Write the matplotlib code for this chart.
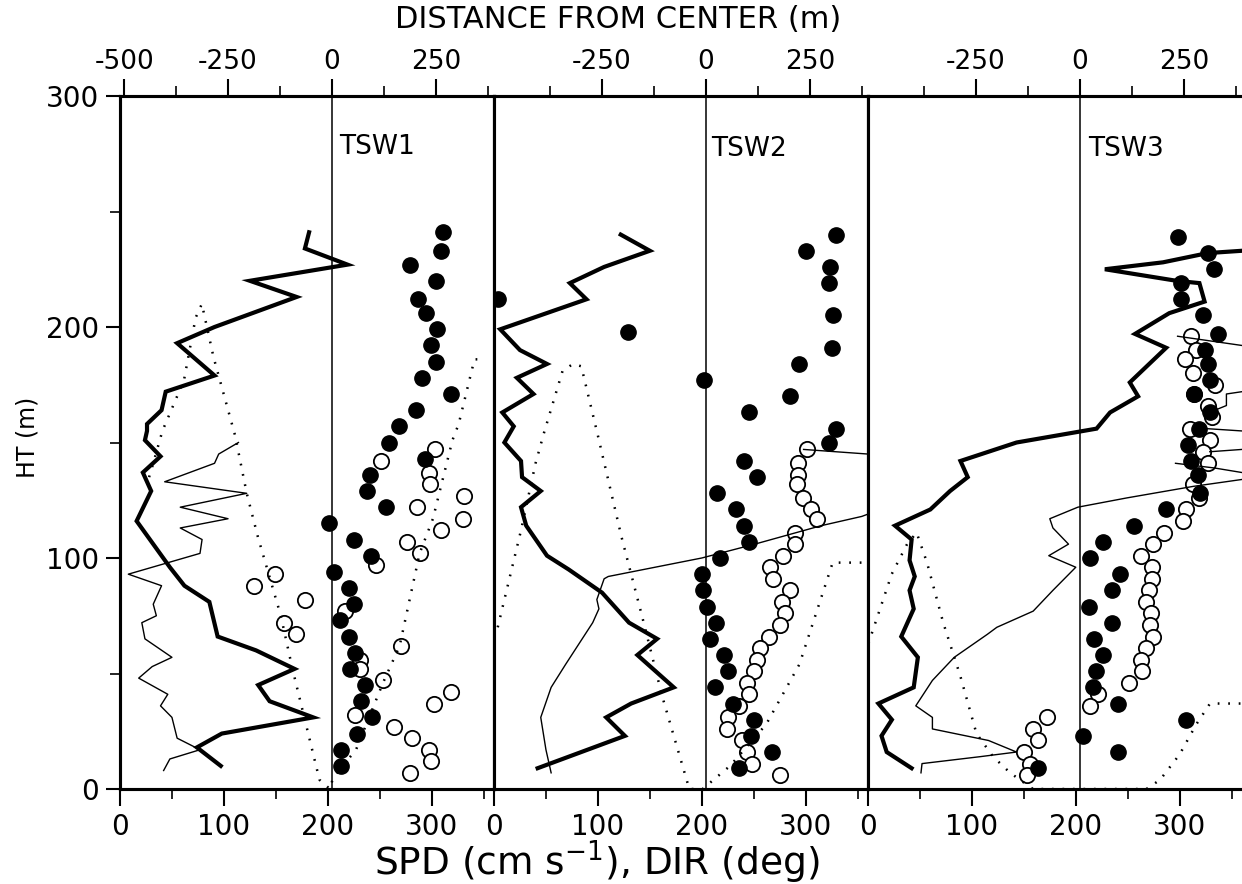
import numpy as np
import matplotlib.pyplot as plt

# Profiles for the three soundings: (value, height m) pairs.
# heavy = thick solid line, light = thin solid line (NaN splits segments),
# dots = filled circles, rings = open circles, track = dotted distance trace (m).

tsw1_heavy = [(182, 241), (178, 234), (219, 227), (125, 220), (170, 213), (91, 200),
              (55, 193), (91, 179), (44, 172), (40, 164), (26, 158), (26, 155),
              (24, 151), (39, 144), (22, 137), (30, 129), (16, 116), (32, 106),
              (48, 96), (62, 88), (86, 81), (94, 66), (131, 60), (168, 52),
              (133, 45), (144, 38), (186, 31), (98, 24), (74, 18), (97, 10)]
tsw1_light = [(114, 150), (95, 145), (91, 141), (43, 133), (122, 128), (58, 122),
              (104, 117), (58, 113), (79, 108), (77, 102), (8, 93), (40, 88),
              (32, 80), (35, 75), (21, 72), (24, 65), (50, 57), (31, 53),
              (18, 48), (46, 41), (39, 36), (50, 31), (55, 22), (77, 17),
              (48, 13), (42, 8)]
tsw1_track = [(-440, 135), (-430, 141), (-408, 155), (-356, 177), (-328, 204),
              (-313, 210), (-285, 187), (-233, 153), (-205, 128), (-178, 109),
              (-123, 75), (-95, 52), (-30, 4), (-5, 0), (3, 5), (58, 17),
              (123, 46), (163, 62), (211, 102), (243, 117), (290, 151),
              (305, 158), (343, 186), (370, 186)]
tsw1_dots = [(311, 241), (309, 233), (279, 227), (304, 220), (287, 212), (295, 206),
             (305, 199), (299, 192), (304, 185), (291, 178), (319, 171), (285, 164),
             (269, 157), (259, 150), (294, 143), (241, 136), (238, 129), (256, 122),
             (201, 115), (225, 108), (242, 101), (206, 94), (220, 87), (225, 80),
             (212, 73), (220, 66), (226, 59), (221, 52), (236, 45), (232, 38),
             (243, 31), (228, 24), (213, 17), (213, 10)]
tsw1_rings = [(303, 147), (251, 142), (297, 137), (298, 132), (331, 127), (286, 122),
              (330, 117), (309, 112), (276, 107), (289, 102), (246, 97), (149, 93),
              (129, 88), (178, 82), (217, 77), (158, 72), (169, 67), (270, 62),
              (231, 56), (231, 52), (253, 47), (319, 42), (302, 37), (226, 32),
              (264, 27), (281, 22), (297, 17), (299, 12), (279, 7)]

tsw2_heavy = [(122, 240), (150, 233), (106, 226), (73, 219), (89, 212), (6, 199),
              (25, 190), (51, 184), (22, 178), (38, 171), (8, 163), (19, 157),
              (10, 150), (26, 142), (27, 135), (45, 129), (26, 122), (31, 114),
              (51, 101), (72, 95), (104, 85), (130, 72), (157, 65), (138, 58),
              (173, 44), (132, 37), (108, 31), (126, 23), (42, 9)]
tsw2_light = [(55, 7), (50, 17), (45, 31), (55, 44), (69, 54), (82, 63), (95, 72),
              (101, 78), (99, 82), (106, 91), (110, 92), (200, 100), (251, 106),
              (315, 114), (354, 118), (360, 119), (np.nan, np.nan),
              (360, 145), (298, 147)]
tsw2_track = [(-501, 70), (-473, 91), (-445, 112), (-410, 141), (-390, 154),
              (-345, 181), (-320, 184), (-300, 183), (-260, 153), (-203, 109),
              (-154, 75), (-105, 40), (-40, 0), (-8, 0), (58, 10), (145, 28),
              (225, 54), (305, 98), (323, 98), (378, 98)]
tsw2_dots = [(329, 240), (300, 233), (323, 226), (322, 219), (4, 212), (326, 205),
             (129, 198), (325, 191), (294, 184), (202, 177), (285, 170), (245, 163),
             (329, 156), (322, 150), (241, 142), (253, 135), (215, 128), (233, 121),
             (241, 114), (245, 107), (218, 100), (200, 93), (201, 86), (205, 79),
             (214, 72), (208, 65), (221, 58), (225, 51), (213, 44), (230, 37),
             (250, 30), (247, 23), (268, 16), (236, 9)]
tsw2_rings = [(301, 147), (293, 141), (293, 136), (292, 132), (297, 126), (305, 121),
              (311, 117), (290, 111), (290, 106), (278, 101), (266, 96), (269, 91),
              (285, 86), (277, 81), (280, 76), (275, 71), (265, 66), (256, 61),
              (253, 56), (250, 51), (244, 46), (245, 41), (236, 36), (225, 31),
              (224, 26), (239, 21), (244, 16), (248, 11), (275, 6)]

tsw3_heavy = [(360, 233), (327, 232), (284, 228), (228, 225), (297, 220), (319, 219),
              (324, 211), (290, 206), (257, 197), (287, 191), (252, 176), (260, 170),
              (233, 163), (220, 156), (143, 150), (89, 142), (96, 135), (79, 129),
              (60, 121), (26, 114), (42, 108), (40, 99), (45, 92), (40, 86),
              (44, 78), (32, 66), (48, 57), (44, 44), (10, 37), (23, 30),
              (13, 23), (18, 16), (42, 9)]
tsw3_light = [(51, 7), (52, 11), (108, 14), (143, 16), (116, 21), (62, 26), (62, 31),
              (46, 36), (62, 47), (83, 57), (115, 67), (124, 70), (159, 77),
              (178, 86), (200, 96), (174, 101), (193, 106), (178, 113), (175, 117),
              (202, 122), (249, 126), (313, 131), (360, 134), (np.nan, np.nan),
              (360, 137), (333, 139), (296, 141), (np.nan, np.nan),
              (329, 146), (360, 147), (np.nan, np.nan),
              (360, 155), (326, 156), (np.nan, np.nan),
              (334, 164), (345, 166), (345, 171), (360, 172), (np.nan, np.nan),
              (360, 192), (298, 196)]
tsw3_track = [(-509, 63), (-453, 93), (-416, 106), (-393, 111), (-368, 98),
              (-329, 72), (-288, 49), (-249, 24), (-209, 14), (-168, 7),
              (-113, 0), (0, 0), (160, 0), (193, 4), (240, 15), (280, 28),
              (313, 37), (390, 37)]
tsw3_dots = [(298, 239), (327, 232), (333, 225), (301, 219), (301, 212), (322, 205),
             (337, 197), (324, 190), (327, 184), (329, 177), (314, 171), (329, 163),
             (319, 156), (308, 149), (311, 142), (318, 136), (320, 128), (287, 121),
             (256, 114), (226, 107), (214, 100), (243, 93), (235, 86), (213, 79),
             (235, 72), (218, 65), (226, 58), (219, 51), (217, 44), (241, 37),
             (306, 30), (207, 23), (241, 16), (164, 9)]
tsw3_rings = [(311, 196), (316, 190), (305, 186), (313, 180), (334, 175), (314, 171),
              (327, 166), (331, 161), (310, 156), (329, 151), (322, 146), (327, 141),
              (313, 132), (319, 126), (306, 121), (303, 116), (285, 111), (274, 106),
              (263, 101), (273, 96), (273, 91), (270, 86), (268, 81), (272, 76),
              (271, 71), (274, 66), (268, 61), (263, 56), (264, 51), (251, 46),
              (221, 41), (214, 36), (172, 31), (159, 26), (164, 21), (150, 16),
              (156, 11), (153, 6)]

names = ['TSW1', 'TSW2', 'TSW3']
name_pos = [(211, 278), (209, 277), (212, 277)]

panels = [
    (tsw1_heavy, tsw1_light, tsw1_track, tsw1_dots, tsw1_rings),
    (tsw2_heavy, tsw2_light, tsw2_track, tsw2_dots, tsw2_rings),
    (tsw3_heavy, tsw3_light, tsw3_track, tsw3_dots, tsw3_rings),
]

SPINE = 2.2
fig = plt.figure(figsize=(12.42, 8.84), dpi=100)
x0, y0 = 120 / 1242, 95 / 884
pw, ph = 374 / 1242, 693 / 884

for i, (heavy, light, track, dots, rings) in enumerate(panels):
    ax = fig.add_axes([x0 + i * pw, y0, pw, ph])
    top = ax.twiny()

    ax.set_xlim(0, 360)
    ax.set_ylim(0, 300)
    top.set_xlim(-510, 390)

    # reference line at the centre
    top.axvline(0, color='black', lw=1.1, zorder=1)

    rx, ry = np.array(rings, dtype=float).T
    ax.plot(rx, ry, 'o', ms=11, mfc='white', mec='black', mew=1.3, zorder=3)
    dx, dy = np.array(dots, dtype=float).T
    ax.plot(dx, dy, 'o', ms=11, color='black', zorder=4)

    lx, ly = np.array(light, dtype=float).T
    ax.plot(lx, ly, color='black', lw=1.0, zorder=5)
    hx, hy = np.array(heavy, dtype=float).T
    ax.plot(hx, hy, color='black', lw=3.0, solid_joinstyle='miter', zorder=5)

    tx, ty = np.array(track, dtype=float).T
    top.plot(tx, ty, color='black', lw=1.8, ls=(0, (0.7, 3.5)), zorder=2)

    ax.text(name_pos[i][0], name_pos[i][1], names[i], fontsize=19,
            ha='left', va='center', zorder=6)

    # bottom axis: speed / direction
    ax.set_xticks([0, 100, 200, 300])
    ax.set_xticks([50, 150, 250, 350], minor=True)
    ax.tick_params(axis='x', which='major', direction='out', length=12, width=1.5,
                   labelsize=20, pad=5)
    ax.tick_params(axis='x', which='minor', direction='out', length=7, width=1.2)

    # left axis: height
    if i == 0:
        ax.set_yticks([0, 100, 200, 300])
        ax.set_yticks([50, 150, 250], minor=True)
        ax.tick_params(axis='y', which='major', direction='out', length=10, width=1.5,
                       labelsize=20, pad=5)
        ax.tick_params(axis='y', which='minor', direction='out', length=7, width=1.2)
    else:
        ax.set_yticks([])

    # top axis: distance from centre
    if i == 0:
        top.set_xticks([-500, -250, 0, 250])
        top.set_xticklabels(['-500', '-250', '0', '250'])
    else:
        top.set_xticks([-250, 0, 250])
        top.set_xticklabels(['-250', '0', '250'])
    top.set_xticks([-375, -125, 125, 375], minor=True)
    top.tick_params(axis='x', which='major', direction='out', length=12, width=1.5,
                    labelsize=19, pad=3)
    top.tick_params(axis='x', which='minor', direction='out', length=7, width=1.2)

    for a in (ax, top):
        for sp in a.spines.values():
            sp.set_linewidth(SPINE)
        if i == 2:
            a.spines['right'].set_visible(False)

fig.text(618 / 1242, 1 - 19 / 884, 'DISTANCE FROM CENTER (m)', fontsize=22,
         ha='center', va='center')
fig.text(597 / 1242, 1 - 862 / 884, 'SPD (cm s$^{-1}$), DIR (deg)', fontsize=27,
         ha='center', va='center')
fig.text(27 / 1242, 1 - 437 / 884, 'HT (m)', fontsize=17, rotation=90,
         ha='center', va='center')

fig.savefig('out.png', dpi=100)
